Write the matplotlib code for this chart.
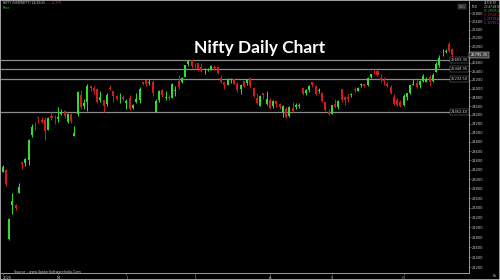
import matplotlib
matplotlib.use("Agg")
import matplotlib.pyplot as plt
from matplotlib.ticker import NullLocator, FixedLocator, FixedFormatter
from matplotlib.patches import Rectangle

# ---------------- data (Nifty daily, 3 Apr 2025 - 24 Oct 2025) ----------------
dates = [
    "2025-04-03","2025-04-04","2025-04-07","2025-04-08","2025-04-09","2025-04-11","2025-04-15","2025-04-16",
    "2025-04-17","2025-04-21","2025-04-22","2025-04-23","2025-04-24","2025-04-25","2025-04-28","2025-04-29",
    "2025-04-30",
    "2025-05-02","2025-05-05","2025-05-06","2025-05-07","2025-05-08","2025-05-09","2025-05-12","2025-05-13",
    "2025-05-14","2025-05-15","2025-05-16","2025-05-19","2025-05-20","2025-05-21","2025-05-22","2025-05-23",
    "2025-05-26","2025-05-27","2025-05-28","2025-05-29","2025-05-30",
    "2025-06-02","2025-06-03","2025-06-04","2025-06-05","2025-06-06","2025-06-09","2025-06-10","2025-06-11",
    "2025-06-12","2025-06-13","2025-06-16","2025-06-17","2025-06-18","2025-06-19","2025-06-20","2025-06-23",
    "2025-06-24","2025-06-25","2025-06-26","2025-06-27","2025-06-30",
    "2025-07-01","2025-07-02","2025-07-03","2025-07-04","2025-07-07","2025-07-08","2025-07-09","2025-07-10",
    "2025-07-11","2025-07-14","2025-07-15","2025-07-16","2025-07-17","2025-07-18","2025-07-21","2025-07-22",
    "2025-07-23","2025-07-24","2025-07-25","2025-07-28","2025-07-29","2025-07-30","2025-07-31",
    "2025-08-01","2025-08-04","2025-08-05","2025-08-06","2025-08-07","2025-08-08","2025-08-11","2025-08-12",
    "2025-08-13","2025-08-14","2025-08-18","2025-08-19","2025-08-20","2025-08-21","2025-08-22","2025-08-25",
    "2025-08-26","2025-08-28","2025-08-29",
    "2025-09-01","2025-09-02","2025-09-03","2025-09-04","2025-09-05","2025-09-08","2025-09-09","2025-09-10",
    "2025-09-11","2025-09-12","2025-09-15","2025-09-16","2025-09-17","2025-09-18","2025-09-19","2025-09-22",
    "2025-09-23","2025-09-24","2025-09-25","2025-09-26","2025-09-29","2025-09-30",
    "2025-10-01","2025-10-03","2025-10-06","2025-10-07","2025-10-08","2025-10-09","2025-10-10","2025-10-13",
    "2025-10-14","2025-10-15","2025-10-16","2025-10-17","2025-10-20","2025-10-21","2025-10-23","2025-10-24",
]
opens = [
    23150, 23190, 21758, 22446, 22460, 22695, 23368, 23344, 23401, 23949, 24185, 24357, 24277, 24289, 24070, 24371, 24342,
    24311, 24419, 24500, 24233, 24431, 23936, 24420, 24865, 24613, 24694, 25064, 25006, 24997, 24745, 24733, 24640,
    25005, 24956, 24832, 24825, 24813,
    24670, 24786, 24560, 24691, 24749, 25160, 25196, 25134, 25164, 24474, 24733, 24977, 24788, 24803, 24787, 24939,
    25179, 25150, 25268, 25576, 25661,
    25551, 25588, 25505, 25428, 25450, 25428, 25514, 25511, 25255, 25149, 25089, 25196, 25231, 25108, 24999, 25167,
    25139, 25243, 25010, 24782, 24609, 24890, 24642,
    24734, 24597, 24720, 24641, 24464, 24544, 24372, 24563, 24586, 24607, 25008, 24891, 24965, 25142, 25065, 24949,
    24900, 24695, 24466,
    24432, 24653, 24582, 24981, 24819, 24802, 24864, 24992, 24946, 25074, 25118, 25074, 25276, 25441, 25411, 25239,
    25209, 25109, 25035, 24818, 24728, 24691,
    24620, 24815, 24900, 25085, 25122, 25075, 25167, 25152, 25277, 25181, 25394, 25546, 25824, 25866, 26057, 25936,
]
highs = [
    23306, 23214, 22190, 22698, 22468, 22924, 23368, 23452, 23873, 24189, 24242, 24360, 24347, 24365, 24355, 24457, 24396,
    24589, 24526, 24510, 24449, 24447, 24164, 24944, 24974, 24767, 25116, 25071, 25062, 25011, 24946, 24737, 24909,
    25080, 24956, 24864, 24892, 24863,
    24754, 24845, 24644, 24899, 25029, 25160, 25199, 25222, 25196, 24754, 24967, 24982, 24947, 24863, 25136, 25057,
    25317, 25266, 25561, 25655, 25669,
    25593, 25608, 25587, 25470, 25489, 25549, 25548, 25525, 25322, 25151, 25245, 25255, 25238, 25145, 25111, 25183,
    25233, 25247, 25010, 24889, 24847, 24903, 24956,
    24784, 24736, 24733, 24671, 24634, 24586, 24600, 24702, 24664, 24674, 25022, 24990, 25089, 25154, 25084, 25022,
    24919, 24702, 24541,
    24636, 24756, 24737, 24981, 24833, 24885, 24891, 25038, 25038, 25139, 25118, 25261, 25346, 25449, 25429, 25332,
    25261, 25152, 25092, 24868, 24791, 24731,
    24867, 24904, 25095, 25220, 25192, 25199, 25330, 25267, 25310, 25365, 25625, 25781, 25926, 25934, 26104, 25944,
]
lows = [
    23146, 22858, 21743, 22270, 22353, 22695, 23207, 23273, 23299, 23903, 24073, 24217, 24216, 23847, 24055, 24290, 24198,
    24238, 24400, 24331, 24220, 24220, 23936, 24378, 24543, 24535, 24494, 24953, 24875, 24669, 24704, 24462, 24614,
    24963, 24704, 24737, 24677, 24717,
    24526, 24502, 24530, 24672, 24671, 25078, 25061, 25082, 24825, 24473, 24703, 24813, 24750, 24733, 24783, 24825,
    24999, 25125, 25267, 25523, 25490,
    25482, 25413, 25384, 25332, 25407, 25425, 25424, 25340, 25129, 25001, 25088, 25121, 25101, 24918, 24882, 25035,
    25086, 25018, 24807, 24646, 24599, 24771, 24636,
    24535, 24554, 24590, 24539, 24344, 24337, 24347, 24465, 24539, 24563, 24853, 24855, 24928, 25036, 24860, 24889,
    24689, 24481, 24405,
    24432, 24553, 24533, 24695, 24621, 24692, 24815, 24915, 24940, 25038, 25038, 25070, 25240, 25330, 25287, 25152,
    25084, 25028, 24879, 24629, 24606, 24588,
    24605, 24747, 24881, 25084, 25009, 25024, 25157, 25152, 25061, 25159, 25376, 25508, 25763, 25847, 25863, 25718,
]
closes = [
    23250, 22904, 22162, 22536, 22399, 22829, 23328, 23437, 23852, 24125, 24167, 24329, 24247, 24039, 24328, 24336, 24334,
    24347, 24461, 24380, 24414, 24273, 24008, 24925, 24578, 24667, 25062, 25020, 24945, 24684, 24813, 24610, 24853,
    25001, 24826, 24752, 24834, 24751,
    24717, 24543, 24621, 24751, 25003, 25103, 25104, 25142, 24889, 24719, 24947, 24853, 24812, 24794, 25112, 24972,
    25044, 25245, 25549, 25638, 25517,
    25542, 25453, 25405, 25461, 25461, 25523, 25476, 25355, 25150, 25082, 25196, 25212, 25112, 24968, 25091, 25061,
    25220, 25062, 24837, 24681, 24821, 24855, 24768,
    24565, 24723, 24650, 24574, 24596, 24363, 24585, 24487, 24619, 24631, 24877, 24980, 25051, 25084, 24870, 24968,
    24712, 24501, 24427,
    24625, 24580, 24716, 24734, 24741, 24773, 24869, 24973, 25006, 25114, 25069, 25240, 25330, 25424, 25327, 25202,
    25170, 25057, 24891, 24655, 24635, 24611,
    24837, 24895, 25078, 25108, 25046, 25182, 25285, 25227, 25146, 25324, 25586, 25710, 25843, 25869, 25891, 25795,
]
level_values = [25669.35, 25448.95, 25232.50, 24462.40]
level_labels = ["25669.35", "25448.95", "25232.50", "24462.40"]
month_labels = ["2025", "M", "J", "J", "A", "S", "O"]
ytick_values = list(range(21200, 26801, 200))
ytick_labels = ["" if v == 25800 else str(v) for v in ytick_values]

# ---------------- figure ----------------
W, H = 500, 280
fig = plt.figure(figsize=(W / 100, H / 100), dpi=100, facecolor="black")
ax = fig.add_axes([1 / W, 7 / H, 468 / W, 272 / H], facecolor="black")

GREEN = "#2ee02e"
RED = "#d41a1a"
x = list(range(len(dates)))
colors = [GREEN if c >= o else RED for o, c in zip(opens, closes)]
ax.vlines(x, lows, highs, colors=colors, linewidth=0.7, zorder=3)
bottoms = [min(o, c) for o, c in zip(opens, closes)]
heights = [max(abs(c - o), 8) for o, c in zip(opens, closes)]
ax.bar(x, heights, bottom=bottoms, width=0.62, color=colors, linewidth=0, zorder=4)

ax.set_yscale("log")
ax.set_xlim(-0.49, 143.07)
ax.set_ylim(21090, 27105)

# support / resistance levels
for v, lab in zip(level_values, level_labels):
    ax.axhline(v, color="#8c8c8c", linewidth=0.9, zorder=2)
    ax.text(0.998, v, lab, transform=ax.get_yaxis_transform(), ha="right", va="center",
            fontsize=2.6, color="#d0d0d0", zorder=5,
            bbox=dict(boxstyle="square,pad=0.25", facecolor="black", edgecolor="#8c8c8c", linewidth=0.3))

# axes styling
for s in ["top", "left"]:
    ax.spines[s].set_visible(False)
for s in ["right", "bottom"]:
    ax.spines[s].set_color("#9a9a9a")
    ax.spines[s].set_linewidth(0.7)

ax.yaxis.tick_right()
ax.yaxis.set_major_locator(FixedLocator(ytick_values))
ax.yaxis.set_major_formatter(FixedFormatter(ytick_labels))
ax.yaxis.set_minor_locator(NullLocator())
ax.tick_params(axis="y", colors="#9a9a9a", labelcolor="#d0d0d0", labelsize=2.6, length=1.5, width=0.4, pad=0.8)

month_pos = [0]
for i in range(1, len(dates)):
    if dates[i][5:7] != dates[i - 1][5:7]:
        month_pos.append(i)
ax.set_xticks(month_pos)
ax.set_xticklabels(month_labels)
ax.get_xticklabels()[0].set_horizontalalignment("left")
ax.tick_params(axis="x", colors="#9a9a9a", labelcolor="#d0d0d0", labelsize=2.6, length=1.5, width=0.4, pad=0.6)

# last price marker
ax.text(1.003, closes[-1], "25795.35", transform=ax.get_yaxis_transform(), ha="left", va="center",
        fontsize=2.6, color="white", zorder=6, clip_on=False,
        bbox=dict(boxstyle="square,pad=0.3", facecolor="#3a3a3a", edgecolor="white", linewidth=0.3))

# title and annotations
fig.text(0.52, 1 - 48 / H, "Nifty Daily Chart", fontsize=12.5, fontweight="bold", family="Lato",
         color="white", ha="center", va="center")
fig.text(3 / W, 1 - 3.5 / H, "NIFTY (NSEPNIFTY) 24/10/25", fontsize=2.2, color="#c8c8c8",
         ha="left", va="center")
fig.text(52 / W, 1 - 3.5 / H, "-0.37%", fontsize=2.2, color="#e03030", ha="left", va="center")
fig.text(3 / W, 1 - 8 / H, "Price", fontsize=2.2, color="#30d030", ha="left", va="center")
fig.text(14 / W, 1 - 272 / H, "Source : www.SpiderSoftwareIndia.Com", fontsize=2.4, color="#c8c8c8",
         ha="left", va="center")

fig.text(462 / W, 1 - 6.5 / H, "LOG", fontsize=2.3, color="#c8c8c8", ha="center", va="center",
         bbox=dict(boxstyle="square,pad=0.3", facecolor="#202020", edgecolor="#707070", linewidth=0.3))
fig.text(474.5 / W, 1 - 6.5 / H, "IND", fontsize=2.3, color="#c8c8c8", ha="center", va="center")
info = [("25718.70", "#d0d0d0"), ("23:47:28 Fri", "#d0d0d0"), ("O: 25936.20", "#30c030"),
        ("H: 25944.15", "#d02020"), ("L: 25718.20", "#b040c0"), ("C: 25795.15", "#b040c0")]
for k, (t, c) in enumerate(info):
    fig.text(484 / W, 1 - (3 + 4 * k) / H, t, fontsize=2.0, color=c, ha="left", va="center")
fig.text(495 / W, 1 - 276 / H, "Rs", fontsize=2.4, color="#c8c8c8", ha="center", va="center")

fig.patches.append(Rectangle((0, 0), 1, 1, transform=fig.transFigure, fill=False,
                             edgecolor="#bdbdbd", linewidth=1.2))

fig.savefig("out.png", dpi=100, facecolor="black")
